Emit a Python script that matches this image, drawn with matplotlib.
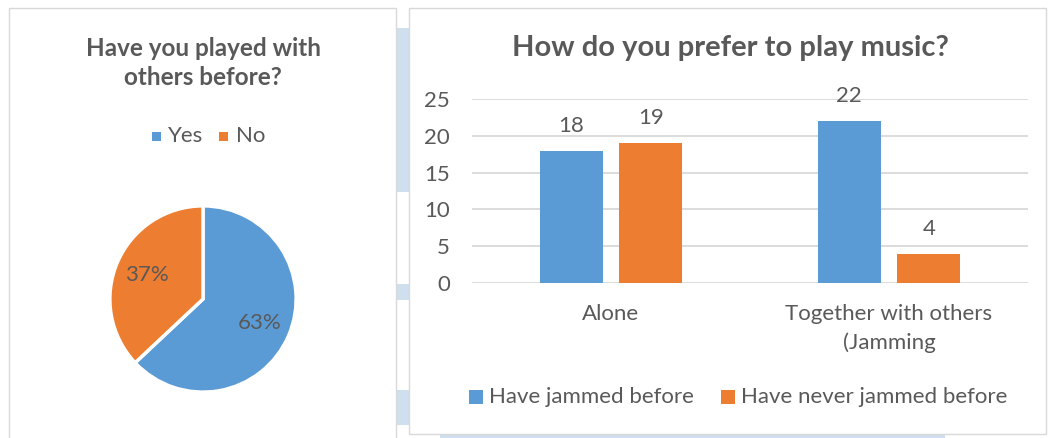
import matplotlib.pyplot as plt
from matplotlib.patches import Rectangle
import numpy as np

plt.rcParams['font.family'] = ['Lato', 'DejaVu Sans']

# pie data
pie_labels = ["Yes", "No"]
pie_values = [63, 37]

# bar data
categories = ["Alone", "Together with others\n(Jamming"]
series_names = ["Have jammed before", "Have never jammed before"]
jammed = [18, 22]
never_jammed = [19, 4]
y_ticks = [0, 5, 10, 15, 20, 25]

BLUE = "#5B9BD5"
ORANGE = "#ED7D31"
TEXT = "#595959"
GRID = "#D9D9D9"
BG_BLUE = "#CFDFEE"
FS = 16

W, H = 1050, 438
fig = plt.figure(figsize=(W / 100, H / 100), dpi=100)
fig.patch.set_facecolor("white")


def px_rect(x0, y0, x1, y1, **kw):
    # rectangle given in pixel coords (origin top-left)
    return Rectangle((x0 / W, 1 - y1 / H), (x1 - x0) / W, (y1 - y0) / H,
                     transform=fig.transFigure, **kw)


# light blue shapes peeking out behind the two chart panels
for x0, y0, x1, y1 in [(395, 28, 409, 192), (395, 284, 409, 300),
                       (395, 390, 409, 425), (440, 433, 945, 438)]:
    fig.patches.append(px_rect(x0, y0, x1, y1, facecolor=BG_BLUE,
                               edgecolor="none", zorder=0))

# panel frames
fig.patches.append(px_rect(8.5, 8.5, 395.5, 445, facecolor="white",
                           edgecolor=GRID, lw=1, zorder=1))
fig.patches.append(px_rect(408.5, 7.5, 1045.5, 433.5, facecolor="white",
                           edgecolor=GRID, lw=1, zorder=1))

# ---- pie chart ----
r = 93
cx, cy = 203, 299
ax_pie = fig.add_axes([(cx - r - 2) / W, 1 - (cy + r + 2) / H,
                       (2 * r + 4) / W, (2 * r + 4) / H])
ax_pie.set_zorder(2)
wedges, texts = ax_pie.pie(pie_values, colors=[BLUE, ORANGE], startangle=90,
                           counterclock=False, radius=1.0,
                           wedgeprops=dict(edgecolor="white", linewidth=2.5))
for w, v in zip(wedges, pie_values):
    ang = np.deg2rad((w.theta1 + w.theta2) / 2)
    ax_pie.text(0.66 * np.cos(ang), 0.66 * np.sin(ang), f"{v}%",
                ha="center", va="center", fontsize=FS, color=TEXT)
ax_pie.set_xlim(-1.02, 1.02)
ax_pie.set_ylim(-1.02, 1.02)
ax_pie.set_aspect("equal")

fig.text(203 / W, 1 - 63 / H, "Have you played with\nothers before?",
         ha="center", va="center", fontsize=17.5, fontweight="bold",
         color=TEXT, linespacing=1.3, zorder=3)

# pie legend
fig.patches.append(px_rect(152, 132, 161, 141, facecolor=BLUE,
                           edgecolor="none", zorder=3))
fig.text(168 / W, 1 - 136 / H, pie_labels[0], ha="left", va="center",
         fontsize=FS, color=TEXT, zorder=3)
fig.patches.append(px_rect(219, 132, 228, 141, facecolor=ORANGE,
                           edgecolor="none", zorder=3))
fig.text(236 / W, 1 - 136 / H, pie_labels[1], ha="left", va="center",
         fontsize=FS, color=TEXT, zorder=3)

# ---- bar chart ----
ax = fig.add_axes([472 / W, 1 - 283 / H, (1028 - 472) / W, (283 - 99) / H])
ax.set_zorder(2)
ax.patch.set_alpha(0)
x = np.arange(len(categories))
bw = 0.226
off = 0.143
b1 = ax.bar(x - off, jammed, bw, color=BLUE, label=series_names[0], zorder=3)
b2 = ax.bar(x + off, never_jammed, bw, color=ORANGE, label=series_names[1], zorder=3)
for bars in (b1, b2):
    for b in bars:
        ax.annotate(f"{b.get_height():g}",
                    (b.get_x() + b.get_width() / 2, b.get_height()),
                    xytext=(0, 18), textcoords="offset points",
                    ha="center", va="center", fontsize=FS, color=TEXT,
                    zorder=4)

ax.set_xlim(-0.5, 1.5)
ax.set_ylim(0, 25)
ax.set_yticks(y_ticks)
ax.set_xticks(x)
ax.set_xticklabels(categories, linespacing=1.5)
ax.tick_params(axis="both", length=0, labelsize=FS, labelcolor=TEXT)
ax.tick_params(axis="y", pad=16)
ax.tick_params(axis="x", pad=15)
ax.grid(axis="y", color=GRID, linewidth=1.3, zorder=0)
for s in ax.spines.values():
    s.set_visible(False)

fig.text(730 / W, 1 - 48 / H, "How do you prefer to play music?",
         ha="center", va="center", fontsize=21, fontweight="bold",
         color=TEXT, zorder=3)

# bar legend
fig.patches.append(px_rect(469, 390, 483, 404, facecolor=BLUE,
                           edgecolor="none", zorder=3))
fig.text(489 / W, 1 - 397 / H, series_names[0], ha="left", va="center",
         fontsize=FS, color=TEXT, zorder=3)
fig.patches.append(px_rect(721, 390, 735, 404, facecolor=ORANGE,
                           edgecolor="none", zorder=3))
fig.text(741 / W, 1 - 397 / H, series_names[1], ha="left", va="center",
         fontsize=FS, color=TEXT, zorder=3)

fig.savefig("out.png", dpi=100)
